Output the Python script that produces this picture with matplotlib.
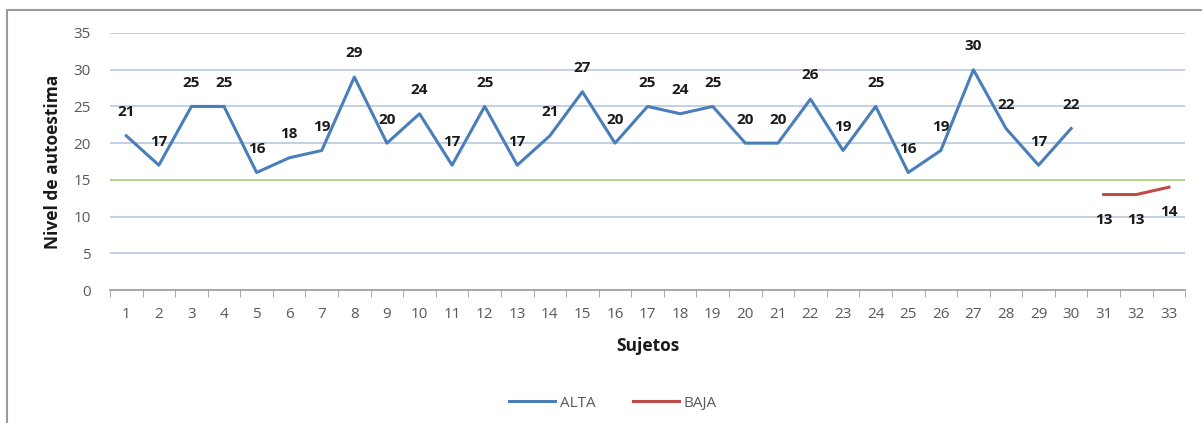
import matplotlib
matplotlib.use("Agg")
import matplotlib.pyplot as plt
from matplotlib.patches import Rectangle

# datos
sujetos_alta = list(range(1, 31))
alta = [21, 17, 25, 25, 16, 18, 19, 29, 20, 24, 17, 25, 17, 21, 27,
        20, 25, 24, 25, 20, 20, 26, 19, 25, 16, 19, 30, 22, 17, 22]
sujetos_baja = [31, 32, 33]
baja = [13, 13, 14]
umbral = 15
yticks = [0, 5, 10, 15, 20, 25, 30, 35]

plt.rcParams['font.family'] = ['Open Sans', 'DejaVu Sans']

fig = plt.figure(figsize=(12.02, 4.23), dpi=100)
ax = fig.add_axes([0.0915, 0.3144, 0.8945, 0.6076])

# marco del gráfico
fig.patches.append(Rectangle((7 / 1202, -0.1), 1.2, 1 - 10 / 423 + 0.1,
                             transform=fig.transFigure, fill=False,
                             edgecolor='#9a9a9a', linewidth=1.5))

for y in yticks[1:]:
    if y != umbral:
        ax.axhline(y, color='#b8c8de', linewidth=1.2, zorder=0)
ax.axhline(umbral, color='#a8cc70', linewidth=1.2, zorder=1)

ax.plot(sujetos_alta, alta, color='#4a7ebb', linewidth=2.2, label='ALTA', zorder=3)
ax.plot(sujetos_baja, baja, color='#be4b48', linewidth=2.2, label='BAJA', zorder=3)

for x, v in zip(sujetos_alta, alta):
    ax.annotate(str(v), (x, v), xytext=(0, 17), textcoords='offset points',
                ha='center', va='center', fontsize=11, fontweight='bold', color='#1a1a1a')
for x, v in zip(sujetos_baja, baja):
    ax.annotate(str(v), (x, v), xytext=(0, -18), textcoords='offset points',
                ha='center', va='center', fontsize=11, fontweight='bold', color='#1a1a1a')

ax.set_xlim(0.5, 33.5)
ax.set_ylim(0, 35)
ax.set_yticks(yticks)
ax.set_xticks(range(1, 34))
ax.set_xticks([i + 0.5 for i in range(0, 34)], minor=True)
ax.tick_params(axis='x', which='major', length=0, pad=12, labelsize=11, colors='#595959')
ax.tick_params(axis='x', which='minor', length=5, color='#9a9a9a', direction='out')
ax.tick_params(axis='y', length=0, pad=14, labelsize=11, colors='#595959')

for s in ['top', 'right', 'left']:
    ax.spines[s].set_visible(False)
ax.spines['bottom'].set_color('#9a9a9a')
ax.spines['bottom'].set_linewidth(1.2)

ax.set_xlabel('Sujetos', fontsize=12.5, fontweight='bold', color='#1a1a1a', labelpad=11)
ax.set_ylabel('Nivel de autoestima', fontsize=12.5, fontweight='bold', color='#1a1a1a', labelpad=8)

fig.legend(loc='center', bbox_to_anchor=(0.51, 0.047), ncol=2, frameon=False,
           fontsize=11, handlelength=3, columnspacing=2.5, handletextpad=0.3,
           labelcolor='#595959')

fig.savefig('out.png', dpi=100)
